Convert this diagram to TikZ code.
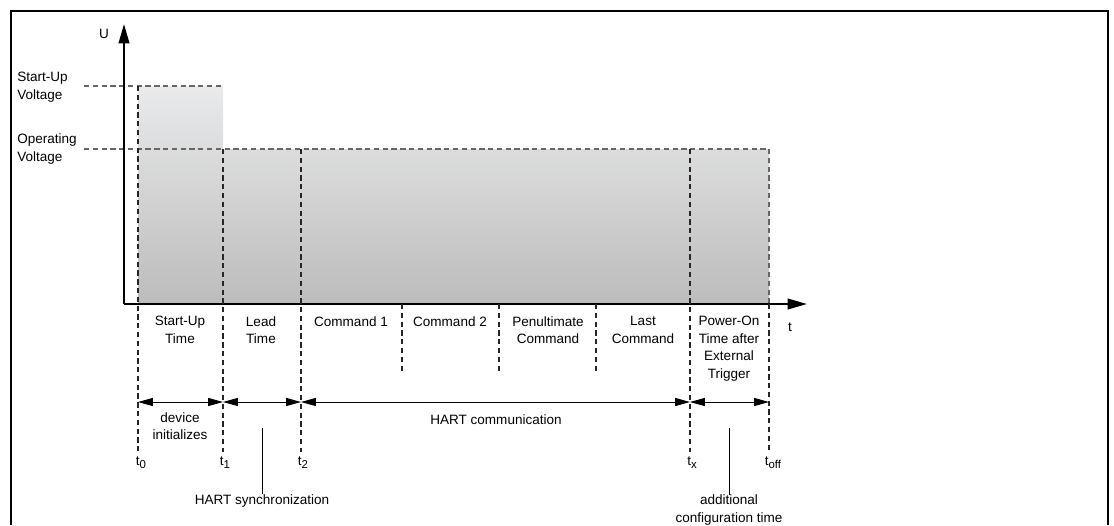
\documentclass[tikz,border=0pt]{standalone}
\usepackage{fontspec}
\setmainfont{Liberation Sans}
\usetikzlibrary{arrows.meta}
\definecolor{shadetop}{HTML}{E9EAEB}
\definecolor{shadebot}{HTML}{BCBCBC}
\newcommand{\tsub}[1]{t\raisebox{-0.45ex}{\fontsize{6.5}{7}\selectfont #1}}

\begin{document}
\begin{tikzpicture}[x=0.02cm, y=-0.02cm,
	every node/.style={font=\fontsize{7.7}{10}\selectfont, inner sep=0pt, align=center},
	>={Triangle[length=8.5pt, width=4.6pt]},
	guide/.style={dash pattern=on 3pt off 2pt, black!85, line width=0.6pt},
	level/.style={dash pattern=on 3pt off 2pt, black!60, line width=0.6pt},
	axis/.style={line width=1.2pt, -{Triangle[length=11pt, width=6pt]}},
	span/.style={<->, line width=0.5pt},
	pointer/.style={line width=0.5pt}]
	\useasboundingbox (0,0) rectangle (1114,525);
	\draw[line width=0.8pt] (11,525) -- (11,11) -- (1108,11) -- (1108,525);
	% voltage area
	\shade[top color=shadetop, bottom color=shadebot] (138,86) -- (223,86) -- (223,149) -- (769,149) -- (769,304) -- (138,304) -- cycle;
	\draw[level] (84,86) -- (223,86);
	\draw[level] (84,149) -- (769,149);
	\draw[level] (769,149) -- (769,304);
	% axes
	\coordinate (origin) at (124,304);
	\coordinate (utip) at (124,24);
	\coordinate (ttip) at (807,304);
	\draw[axis] (origin) -- (utip);
	\draw[axis] (origin) -- (ttip);
	\node (u) at (104,34) {U};
	\node (t) at (790,327) {t};
	\node[anchor=west, align=left] (vstart) at (17,87) {Start-Up\\Voltage};
	\node[anchor=west, align=left] (vop) at (17,149) {Operating\\Voltage};
	% time marks
	\coordinate (s0) at (138,402);
	\coordinate (s1) at (223,402);
	\coordinate (s2) at (301,402);
	\coordinate (sx) at (690,402);
	\coordinate (soff) at (769,402);
	\draw[guide] (138,86) -- (138,452);
	\draw[guide] (223,149) -- (223,452);
	\draw[guide] (301,149) -- (301,452);
	\draw[guide] (690,149) -- (690,452);
	\draw[guide] (769,304) -- (769,452);
	\draw[guide] (402,304) -- (402,371);
	\draw[guide] (499,304) -- (499,371);
	\draw[guide] (596,304) -- (596,371);
	% phases
	\node[anchor=north] (startup) at (180,316) {Start-Up\\Time};
	\node[anchor=north] (lead) at (261,316) {Lead\\Time};
	\node[anchor=north] (cmd1) at (351,316) {Command 1};
	\node[anchor=north] (cmd2) at (450,316) {Command 2};
	\node[anchor=north] (penult) at (548,316) {Penultimate\\Command};
	\node[anchor=north] (last) at (643,316) {Last\\Command};
	\node[anchor=north] (poweron) at (729,316) {Power-On\\Time after\\External\\Trigger};
	% spans
	\draw[span] (s0) -- (s1);
	\draw[span] (s1) -- (s2);
	\draw[span] (s2) -- (sx);
	\draw[span] (sx) -- (soff);
	\node (init) at (180,426) {device\\initializes};
	\node (hart) at (496,420) {HART communication};
	\node (lt0) at (141,463) {\tsub{0}};
	\node (lt1) at (225,463) {\tsub{1}};
	\node (lt2) at (303,463) {\tsub{2}};
	\node (ltx) at (692,463) {\tsub{x}};
	\node (ltoff) at (773,463) {\tsub{off}};
	\node (sync) at (262,501) {HART synchronization};
	\node (config) at (729,510) {additional\\configuration time};
	\coordinate (synctop) at (262,428);
	\coordinate (configtop) at (729,428);
	\draw[pointer] (synctop) -- (sync.north);
	\draw[pointer] (configtop) -- (config.north);
\end{tikzpicture}
\end{document}
